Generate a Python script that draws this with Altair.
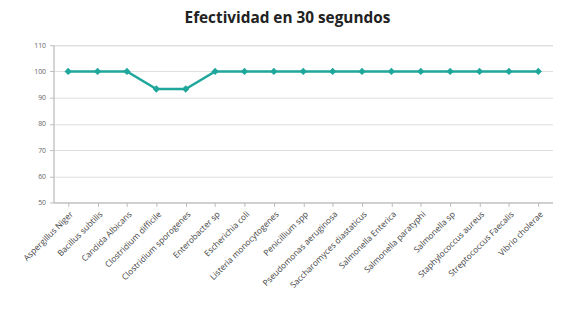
import altair as alt
import pandas as pd

categories = [
    "Aspergillus Niger", "Bacillus subtilis", "Candida Albicans",
    "Clostridium difficile", "Clostridium sporogenes", "Enterobacter sp",
    "Escherichia coli", "Listeria monocytogenes", "Penicillium spp",
    "Pseudomonas aeruginosa", "Saccharomyces diastaticus", "Salmonella Enterica",
    "Salmonella paratyphi", "Salmonella sp", "Staphylococcus aureus",
    "Streptococcus Faecalis", "Vibrio cholerae",
]
values = [100, 100, 100, 93.3, 93.3, 100, 100, 100, 100, 100, 100, 100, 100, 100, 100, 100, 100]
y_ticks = [50, 60, 70, 80, 90, 100, 110]

df = pd.DataFrame({"cat": categories, "val": values})
color = "#1fa79b"

x = alt.X("cat:N", sort=categories, title=None,
          scale=alt.Scale(paddingInner=0, paddingOuter=0),
          axis=alt.Axis(labelAngle=-45, labelFontSize=8.5, labelColor="#444444",
                        domainColor="#bbbbbb", tickColor="#bbbbbb", tickSize=4,
                        bandPosition=0, labelPadding=3, labelFont="Open Sans"))
y = alt.Y("val:Q", title=None,
          scale=alt.Scale(domain=[50, 110], nice=False, zero=False),
          axis=alt.Axis(values=y_ticks, labelFontSize=7, labelColor="#666666",
                        gridColor="#dddddd", domainColor="#bbbbbb", tickColor="#bbbbbb",
                        tickSize=4, labelPadding=4, labelFont="Open Sans"))

line = alt.Chart(df).mark_line(color=color, strokeWidth=2.5).encode(x=x, y=y)
pts = alt.Chart(df).mark_point(shape="diamond", filled=True, color=color, size=55, opacity=1).encode(x=x, y=y)

chart = (line + pts).properties(
    width=505, height=159,
    autosize=alt.AutoSizeParams(type="none"),
    padding={"left": 46, "top": 36, "right": 0, "bottom": 100},
    title=alt.TitleParams("Efectividad en 30 segundos", fontSize=15.5, font="Open Sans",
                          fontWeight="bold", color="#222222", anchor="middle", offset=15, dx=-16),
).configure_view(stroke=None).configure(background="white")

chart.save("out.html", embed_options={"renderer": "svg", "actions": False})
